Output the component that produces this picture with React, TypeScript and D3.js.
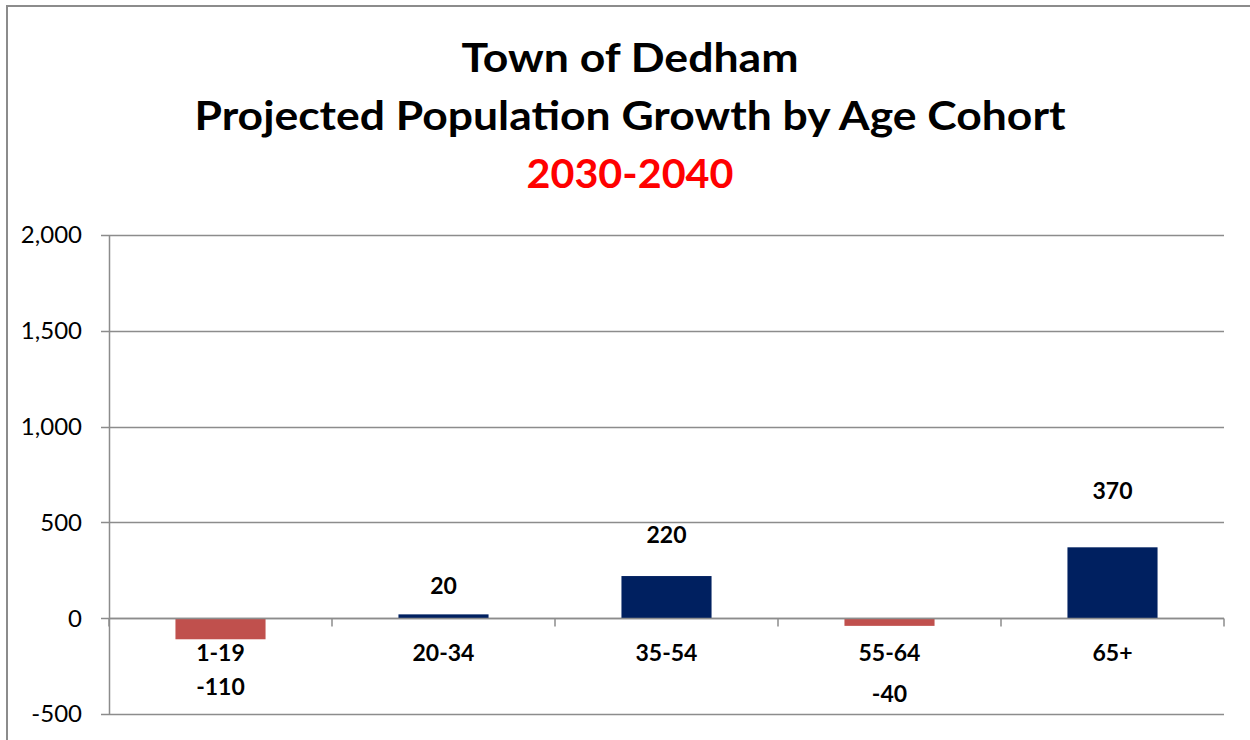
import { useEffect, useRef } from 'react';
import * as d3 from 'd3';

const WIDTH = 1250;
const HEIGHT = 740;
const PLOT = { left: 109, right: 1224, top: 235, bottom: 714 };

const categories = ['1-19', '20-34', '35-54', '55-64', '65+'];
const growth = [-110, 20, 220, -40, 370];
const yTicks = [-500, 0, 500, 1000, 1500, 2000];
const titleLines = ['Town of Dedham', 'Projected Population Growth by Age Cohort', '2030-2040'];

// hand-placed label nudges (px from bar end), as in the original
const LABEL_DY = [48, -28, -41, 68, -56];

const FONT = 'Lato, "Open Sans", sans-serif';
const GRID = '#8c8c8c';

// plain hyphen for negatives, like Excel
const fmt = (v: number) => d3.format(',')(v).replace('\u2212', '-');

export default function App() {
  const svgRef = useRef<SVGSVGElement>(null);

  useEffect(() => {
    if (!svgRef.current) return;
    const svg = d3.select(svgRef.current);
    svg.selectAll('*').remove();

    svg.append('rect').attr('width', WIDTH).attr('height', HEIGHT).attr('fill', '#fff');

    // outer chart border (only top and left visible in the crop)
    svg
      .append('path')
      .attr('d', `M7,${HEIGHT} L7,6 L${WIDTH},6`)
      .attr('fill', 'none')
      .attr('stroke', GRID)
      .attr('stroke-width', 2);

    // title
    const titleY = [72, 130, 188];
    const titleW = [337, 871, 207];
    svg
      .selectAll('text.title')
      .data(titleLines)
      .enter()
      .append('text')
      .attr('class', 'title')
      .attr('x', 630)
      .attr('y', (_, i) => titleY[i])
      .attr('text-anchor', 'middle')
      .attr('font-family', FONT)
      .attr('font-weight', 700)
      .attr('font-size', 41)
      .attr('textLength', (_, i) => titleW[i])
      .attr('lengthAdjust', 'spacingAndGlyphs')
      .attr('fill', (_, i) => (i === 2 ? '#ff0000' : '#000'))
      .text((d) => d);

    const x = d3.scaleBand().domain(categories).range([PLOT.left, PLOT.right]).padding(0);
    const y = d3.scaleLinear().domain([-500, 2000]).range([PLOT.bottom, PLOT.top]);
    const barW = x.bandwidth() * 0.404;

    // gridlines + y ticks
    const g = svg.append('g');
    g.selectAll('line.grid')
      .data(yTicks)
      .enter()
      .append('line')
      .attr('x1', PLOT.left - 8)
      .attr('x2', PLOT.right)
      .attr('y1', (d) => Math.round(y(d)) + 0.5)
      .attr('y2', (d) => Math.round(y(d)) + 0.5)
      .attr('stroke', GRID)
      .attr('stroke-width', 1.5);

    g.selectAll('text.ytick')
      .data(yTicks)
      .enter()
      .append('text')
      .attr('x', 82)
      .attr('y', (d) => y(d))
      .attr('dy', '0.35em')
      .attr('text-anchor', 'end')
      .attr('font-family', FONT)
      .attr('font-size', 24)
      .attr('fill', '#000')
      .text((d) => fmt(d));

    // y axis line
    g.append('line')
      .attr('x1', PLOT.left + 0.5)
      .attr('x2', PLOT.left + 0.5)
      .attr('y1', y(2000))
      .attr('y2', y(-500))
      .attr('stroke', GRID)
      .attr('stroke-width', 1.5);

    // bars
    svg
      .selectAll('rect.bar')
      .data(growth)
      .enter()
      .append('rect')
      .attr('x', (_, i) => (x(categories[i]) ?? 0) + (x.bandwidth() - barW) / 2)
      .attr('y', (d) => y(Math.max(0, d)))
      .attr('width', barW)
      .attr('height', (d) => Math.abs(y(d) - y(0)))
      .attr('fill', (d) => (d < 0 ? '#c0504d' : '#002060'));

    // x axis at zero with tick marks
    const x0 = Math.round(y(0)) + 0.5;
    svg
      .append('line')
      .attr('x1', PLOT.left)
      .attr('x2', PLOT.right)
      .attr('y1', x0)
      .attr('y2', x0)
      .attr('stroke', GRID)
      .attr('stroke-width', 1.5);
    const bounds = [...categories.map((c) => x(c) ?? 0), PLOT.right];
    svg
      .selectAll('line.xtick')
      .data(bounds)
      .enter()
      .append('line')
      .attr('x1', (d) => d)
      .attr('x2', (d) => d)
      .attr('y1', x0)
      .attr('y2', x0 + 8)
      .attr('stroke', GRID)
      .attr('stroke-width', 1.5);

    // category labels
    svg
      .selectAll('text.cat')
      .data(categories)
      .enter()
      .append('text')
      .attr('x', (d) => (x(d) ?? 0) + x.bandwidth() / 2)
      .attr('y', y(0) + 35)
      .attr('dy', '0.35em')
      .attr('text-anchor', 'middle')
      .attr('font-family', FONT)
      .attr('font-weight', 700)
      .attr('font-size', 23)
      .attr('fill', '#000')
      .text((d) => d);

    // data labels
    svg
      .selectAll('text.val')
      .data(growth)
      .enter()
      .append('text')
      .attr('x', (_, i) => (x(categories[i]) ?? 0) + x.bandwidth() / 2)
      .attr('y', (d, i) => y(d) + LABEL_DY[i])
      .attr('dy', '0.35em')
      .attr('text-anchor', 'middle')
      .attr('font-family', FONT)
      .attr('font-weight', 700)
      .attr('font-size', 23)
      .attr('fill', '#000')
      .text((d) => fmt(d));
  }, []);

  return (
    <svg
      ref={svgRef}
      width={WIDTH}
      height={HEIGHT}
      style={{ position: 'absolute', left: 0, top: 0, display: 'block' }}
    />
  );
}
